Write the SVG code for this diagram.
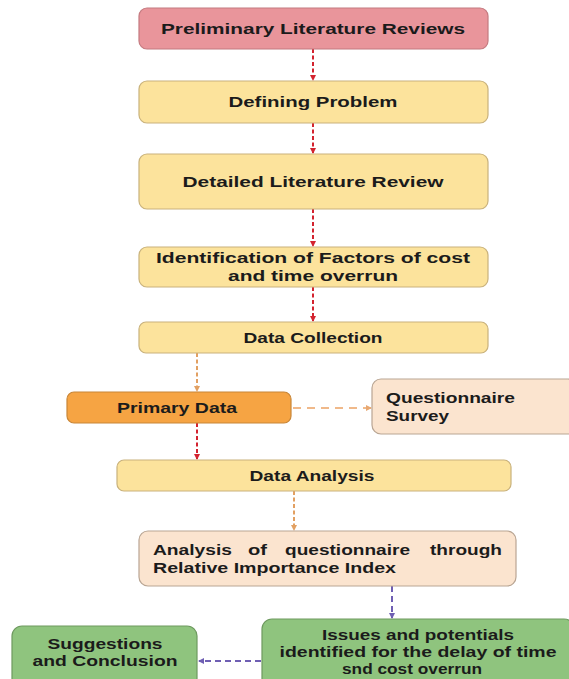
<svg xmlns="http://www.w3.org/2000/svg" width="569" height="679" viewBox="0 0 569 679">
  <style>
    .box { stroke-width: 1.2; }
    .pink { fill: #e9959b; stroke: #c47b80; }
    .yellow { fill: #fce39c; stroke: #c9b27c; }
    .orange { fill: #f6a443; stroke: #c88638; }
    .peach { fill: #fbe4cf; stroke: #b9a593; }
    .green { fill: #8fc47e; stroke: #6e9a5f; }
    text { font-family: "Liberation Sans", Arial, sans-serif; font-weight: bold; font-size: 15px; fill: #1b1b1b; }
    .c { text-anchor: middle; }
    .red { stroke: #d3232f; stroke-width: 2; fill: none; stroke-dasharray: 4 2.5; }
    .amber { stroke: #e2a062; stroke-width: 2; fill: none; stroke-dasharray: 4 2.5; }
    .tan { stroke: #f0b98a; stroke-width: 2; fill: none; stroke-dasharray: 8 6; }
    .violet { stroke: #6f5fb3; stroke-width: 2; fill: none; stroke-dasharray: 6 4; }
  </style>
  <defs>
    <marker id="ah-red" markerWidth="6" markerHeight="6" refX="5" refY="3" orient="auto" markerUnits="userSpaceOnUse">
      <path d="M0,0 L6,3 L0,6 Z" fill="#d3232f"/>
    </marker>
    <marker id="ah-amber" markerWidth="6" markerHeight="6" refX="5" refY="3" orient="auto" markerUnits="userSpaceOnUse">
      <path d="M0,0 L6,3 L0,6 Z" fill="#e2a062"/>
    </marker>
    <marker id="ah-tan" markerWidth="6" markerHeight="6" refX="5" refY="3" orient="auto" markerUnits="userSpaceOnUse">
      <path d="M0,0 L6,3 L0,6 Z" fill="#e8a872"/>
    </marker>
    <marker id="ah-violet" markerWidth="6" markerHeight="6" refX="5" refY="3" orient="auto" markerUnits="userSpaceOnUse">
      <path d="M0,0 L6,3 L0,6 Z" fill="#6f5fb3"/>
    </marker>
  </defs>

  <rect width="569" height="679" fill="#ffffff"/>

  <g id="connectors">
    <path class="red" d="M313,49 V80" marker-end="url(#ah-red)"/>
    <path class="red" d="M313,123 V153" marker-end="url(#ah-red)"/>
    <path class="red" d="M313,209 V246" marker-end="url(#ah-red)"/>
    <path class="red" d="M313,287 V321" marker-end="url(#ah-red)"/>
    <path class="amber" d="M197,353 V391" marker-end="url(#ah-amber)"/>
    <path class="tan" d="M293,408 H371" marker-end="url(#ah-tan)"/>
    <path class="red" d="M197,423 V459" marker-end="url(#ah-red)"/>
    <path class="amber" d="M294,491 V530" marker-end="url(#ah-amber)"/>
    <path class="violet" d="M392,586 V618" marker-end="url(#ah-violet)"/>
    <path class="violet" d="M261,661 H199" marker-end="url(#ah-violet)"/>
  </g>

  <g id="preliminary-literature-reviews">
    <rect class="box pink" x="139" y="8" width="349" height="41" rx="8"/>
    <text class="c" x="313" y="34" textLength="304" lengthAdjust="spacingAndGlyphs">Preliminary  Literature  Reviews</text>
  </g>

  <g id="defining-problem">
    <rect class="box yellow" x="139" y="81" width="349" height="42" rx="8"/>
    <text class="c" x="313" y="107" textLength="169" lengthAdjust="spacingAndGlyphs">Defining Problem</text>
  </g>

  <g id="detailed-literature-review">
    <rect class="box yellow" x="139" y="154" width="349" height="55" rx="8"/>
    <text class="c" x="313" y="187" textLength="261" lengthAdjust="spacingAndGlyphs">Detailed Literature Review</text>
  </g>

  <g id="identification-of-factors">
    <rect class="box yellow" x="139" y="247" width="349" height="40" rx="8"/>
    <text class="c" x="313" y="263" textLength="314" lengthAdjust="spacingAndGlyphs">Identification  of Factors of cost</text>
    <text class="c" x="313" y="281" textLength="170" lengthAdjust="spacingAndGlyphs">and time overrun</text>
  </g>

  <g id="data-collection">
    <rect class="box yellow" x="139" y="322" width="349" height="31" rx="7"/>
    <text class="c" x="313" y="342.5" textLength="139" lengthAdjust="spacingAndGlyphs">Data Collection</text>
  </g>

  <g id="primary-data">
    <rect class="box orange" x="67" y="392" width="224" height="31" rx="7"/>
    <text class="c" x="177" y="413" textLength="120" lengthAdjust="spacingAndGlyphs">Primary Data</text>
  </g>

  <g id="questionnaire-survey">
    <rect class="box peach" x="372" y="379" width="205" height="55" rx="9"/>
    <text x="386" y="403" textLength="129" lengthAdjust="spacingAndGlyphs">Questionnaire</text>
    <text x="386" y="421" textLength="63" lengthAdjust="spacingAndGlyphs">Survey</text>
  </g>

  <g id="data-analysis">
    <rect class="box yellow" x="117" y="460" width="394" height="31" rx="7"/>
    <text class="c" x="312" y="481" textLength="125" lengthAdjust="spacingAndGlyphs">Data Analysis</text>
  </g>

  <g id="relative-importance-index">
    <rect class="box peach" x="139" y="531" width="377" height="55" rx="9"/>
    <!-- justified first line: one run per word -->
    <text y="555"><tspan x="153" textLength="79" lengthAdjust="spacingAndGlyphs">Analysis</tspan></text>
    <text y="555"><tspan x="248" textLength="19" lengthAdjust="spacingAndGlyphs">of</tspan></text>
    <text y="555"><tspan x="285" textLength="125" lengthAdjust="spacingAndGlyphs">questionnaire</tspan></text>
    <text y="555"><tspan x="430" textLength="72" lengthAdjust="spacingAndGlyphs">through</tspan></text>
    <text x="153" y="573" textLength="243" lengthAdjust="spacingAndGlyphs">Relative Importance Index</text>
  </g>

  <g id="issues-and-potentials">
    <rect class="box green" x="262" y="619" width="312" height="70" rx="10"/>
    <text class="c" x="418" y="640" textLength="192" lengthAdjust="spacingAndGlyphs">Issues and potentials</text>
    <text class="c" x="418" y="657" textLength="277" lengthAdjust="spacingAndGlyphs">identified for the delay of time</text>
    <text class="c" x="412" y="674" textLength="140" lengthAdjust="spacingAndGlyphs">snd cost overrun</text>
  </g>

  <g id="suggestions-and-conclusion">
    <rect class="box green" x="12" y="626" width="185" height="62" rx="10"/>
    <text class="c" x="105" y="649" textLength="115" lengthAdjust="spacingAndGlyphs">Suggestions</text>
    <text class="c" x="105" y="666" textLength="145" lengthAdjust="spacingAndGlyphs">and Conclusion</text>
  </g>
</svg>
